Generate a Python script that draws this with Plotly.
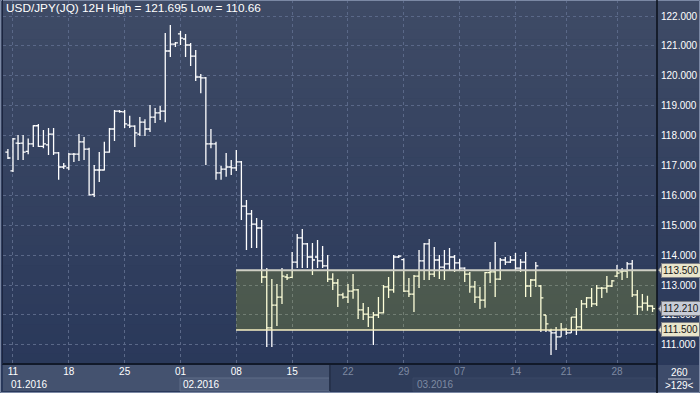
import plotly.graph_objects as go

# ---------------- data (USD/JPY 12H bars) ----------------
bar_index = list(range(128))
open_ = [117.45,116.82,117.75,117.75,117.47,117.72,118.33,117.64,117.69,118.05,
         117.42,116.95,116.92,117.38,117.38,117.79,117.55,116.03,116.85,116.85,
         117.45,118.22,118.82,118.79,118.35,118.32,118.05,118.45,118.22,118.62,
         118.76,118.82,120.83,121.06,121.40,121.23,121.03,120.66,119.96,119.93,
         117.72,117.72,116.75,116.88,116.95,116.92,117.12,115.64,115.38,115.04,
         114.91,113.27,111.57,112.33,112.60,113.27,113.26,113.77,114.58,114.38,
         113.94,113.94,113.81,113.64,113.20,113.07,112.67,112.60,112.80,112.84,
         112.17,112.03,111.93,112.00,112.07,112.94,112.84,113.94,113.85,112.80,
         112.70,113.30,113.81,114.38,113.37,113.84,113.60,113.71,113.94,113.74,
         113.57,113.37,112.94,112.60,112.50,113.42,113.44,113.20,113.84,113.77,
         113.84,113.57,113.77,112.97,113.17,112.97,112.00,111.47,111.40,111.27,
         111.53,111.40,111.93,111.60,112.37,112.57,112.37,112.90,112.90,112.97,
         113.30,113.44,113.47,113.71,112.67,112.27,112.40,112.30]
high = [117.55,117.92,118.02,118.02,117.90,118.35,118.39,118.19,118.25,118.25,
        117.45,117.08,117.42,117.42,118.05,117.95,117.59,117.02,117.45,117.79,
        118.25,118.86,118.86,118.86,118.66,118.35,118.62,118.55,119.02,118.92,
        118.99,121.43,121.695,121.13,121.50,121.40,121.10,120.86,120.06,119.96,
        118.22,117.79,116.98,117.42,117.18,117.52,117.15,115.85,115.51,115.24,
        115.18,113.57,113.20,113.04,113.57,113.37,114.11,114.71,114.88,114.41,
        114.41,114.51,114.31,114.01,113.40,113.20,112.74,113.04,113.37,112.87,
        112.40,112.27,112.10,112.60,113.00,113.27,114.01,114.01,113.90,113.24,
        113.34,114.17,114.41,114.54,114.27,114.01,114.17,114.24,114.01,113.87,
        113.60,113.44,113.14,112.94,113.44,113.77,114.44,113.91,113.94,113.97,
        114.07,113.87,114.11,113.20,113.77,113.00,112.00,111.54,111.60,111.73,
        111.57,111.93,112.23,112.50,112.60,112.90,113.00,112.94,113.30,113.17,
        113.67,113.57,113.77,113.84,112.84,112.70,112.64,112.33]
low = [117.22,116.78,117.18,117.18,117.38,117.62,117.62,117.58,117.35,117.35,
       116.52,116.88,116.85,117.12,117.15,117.18,116.00,115.95,116.45,116.83,
       117.43,117.82,118.76,118.25,118.25,117.62,117.99,117.99,118.12,118.42,
       118.52,118.45,120.63,120.96,121.03,120.63,120.33,119.83,119.42,117.02,
       117.58,116.52,116.52,116.62,116.68,116.82,115.18,114.17,114.24,114.24,
       113.07,110.93,110.93,111.63,112.37,113.17,113.24,113.57,113.57,113.57,
       113.34,113.57,113.57,113.10,112.84,112.27,112.54,112.40,112.54,111.87,
       111.83,111.60,111.00,111.90,112.05,112.57,112.74,113.91,112.77,112.60,
       112.10,112.90,113.17,113.17,113.27,113.20,113.17,113.50,113.44,113.50,
       113.10,112.74,112.40,112.20,112.24,113.07,112.60,113.17,113.67,113.74,
       113.50,113.44,112.60,112.60,112.94,111.43,111.43,110.66,110.83,111.27,
       111.33,111.40,111.33,111.50,112.23,112.27,112.30,112.57,112.74,112.94,
       113.27,113.17,113.24,112.60,112.00,112.14,112.14,112.10]
close = [117.25,117.89,117.74,117.45,117.72,118.33,117.64,117.72,118.05,117.42,
         116.95,116.98,117.38,117.38,117.79,117.55,116.02,116.85,116.85,117.45,
         118.22,118.82,118.80,118.39,118.32,118.09,118.45,118.22,118.62,118.76,
         118.82,120.83,121.06,121.10,121.26,121.03,120.66,119.96,119.93,117.72,
         117.72,116.75,116.88,116.95,116.92,117.12,115.64,115.38,115.04,114.91,
         113.27,111.57,112.33,112.60,113.30,113.24,113.77,114.58,114.38,113.94,
         113.84,113.81,113.64,113.20,113.07,112.67,112.60,112.80,112.84,112.17,
         112.03,111.93,112.00,112.07,112.94,112.84,113.94,113.97,112.80,112.70,
         113.30,113.81,114.38,113.37,113.84,113.60,113.71,113.94,113.74,113.57,
         113.37,112.94,112.60,112.50,113.42,113.44,113.20,113.84,113.77,113.84,
         113.57,113.77,112.97,113.17,113.64,112.57,111.70,111.40,111.27,111.53,
         111.40,111.93,111.60,112.37,112.57,112.37,112.90,112.90,112.97,113.14,
         113.40,113.47,113.71,112.67,112.27,112.40,112.30,112.21]

day_tick_index = [1, 12, 23, 34, 45, 56, 67, 78, 89, 100, 110, 120]
day_tick_text = ["11", "18", "25", "01", "08", "15", "22", "29", "07", "14", "21", "28"]
month_start_index = [0, 34, 80]
month_text = ["01.2016", "02.2016", "03.2016"]
price_ticks = [111, 112, 113, 114, 115, 116, 117, 118, 119, 120, 121, 122]
zone_low, zone_high = 111.5, 113.5
zone_start_index = 45
last_price = 112.21
title_text = "USD/JPY(JQ) 12H High = 121.695 Low = 110.66"
bars_total, bars_visible = "260", ">129<"

# ---------------- layout constants ----------------
W, H = 700, 393
ML, MR, MT, MB = 3, 43, 0, 29
PW = W - ML - MR
PH = H - MT - MB
Y_RANGE = [110.361, 122.535]
X_RANGE = [-0.965, 127.88]
FONT = "Liberation Sans, Arial, sans-serif"
BG_TOP = (63, 75, 102)
BG_BOT = (41, 56, 90)
split = 6  # first six day labels are bright, the rest dimmed

def px_x(px):  # paper x from pixel
    return (px - ML) / PW

def px_y(py):  # paper y from pixel
    return (H - MB - py) / PH

fig = go.Figure()
fig.add_trace(go.Ohlc(
    x=bar_index, open=open_, high=high, low=low, close=close,
    increasing=dict(line=dict(color="#ffffff", width=1.3)),
    decreasing=dict(line=dict(color="#ffffff", width=1.3)),
    tickwidth=0.5, hoverinfo="skip", showlegend=False,
))

shapes = []
n = 40
for k in range(n):
    t = k / (n - 1)
    c = tuple(int(BG_TOP[j] + (BG_BOT[j] - BG_TOP[j]) * t) for j in range(3))
    y0 = k * H / n
    y1 = (k + 1) * H / n + 0.5
    shapes.append(dict(type="rect", xref="paper", yref="paper",
                       x0=px_x(0), x1=px_x(W), y0=px_y(y1), y1=px_y(y0),
                       fillcolor="rgb(%d,%d,%d)" % c, line=dict(width=0), layer="below"))

# zone rectangle (translucent overlay tints bars & background)
shapes.append(dict(type="rect", xref="x", yref="y", x0=zone_start_index - 0.05, x1=X_RANGE[1],
                   y0=zone_low, y1=zone_high, fillcolor="rgba(250,255,0,0.15)",
                   line=dict(width=0), layer="above"))
shapes.append(dict(type="line", xref="x", yref="y", x0=zone_start_index - 0.05, x1=X_RANGE[1],
                   y0=zone_high, y1=zone_high, line=dict(color="#cfcfc4", width=2), layer="above"))
shapes.append(dict(type="line", xref="x", yref="y", x0=zone_start_index - 0.05, x1=X_RANGE[1],
                   y0=zone_low, y1=zone_low, line=dict(color="#f6efc2", width=1.5), layer="above"))

# bottom panel
shapes.append(dict(type="rect", xref="paper", yref="paper", x0=px_x(3), x1=px_x(330),
                   y0=px_y(391), y1=px_y(365), fillcolor="#44526f", line=dict(width=0), layer="below"))
shapes.append(dict(type="rect", xref="paper", yref="paper", x0=px_x(330), x1=px_x(657),
                   y0=px_y(391), y1=px_y(365), fillcolor="#2f3d5b", line=dict(width=0), layer="below"))
shapes.append(dict(type="rect", xref="paper", yref="paper", x0=px_x(180), x1=px_x(330),
                   y0=px_y(391), y1=px_y(378), fillcolor="#4c5a77",
                   line=dict(color="#5e6c88", width=1), layer="below"))
shapes.append(dict(type="rect", xref="paper", yref="paper", x0=px_x(413), x1=px_x(655),
                   y0=px_y(391), y1=px_y(378), fillcolor="#33415f",
                   line=dict(color="#3b4966", width=1), layer="below"))
shapes.append(dict(type="line", xref="paper", yref="paper", x0=px_x(330), x1=px_x(330),
                   y0=px_y(391), y1=px_y(365), line=dict(color="#26324c", width=2), layer="below"))
shapes.append(dict(type="rect", xref="paper", yref="paper", x0=px_x(658), x1=px_x(699),
                   y0=px_y(392), y1=px_y(365), fillcolor="#3d4b6a", line=dict(width=0), layer="below"))
shapes.append(dict(type="line", xref="paper", yref="paper", x0=px_x(668), x1=px_x(691),
                   y0=px_y(379), y1=px_y(379), line=dict(color="#c8ccd8", width=1), layer="below"))
shapes.append(dict(type="rect", xref="paper", yref="paper", x0=px_x(0.5), x1=px_x(699.5),
                   y0=px_y(392.5), y1=px_y(0.5), line=dict(color="#7b88a4", width=1), layer="above"))
shapes.append(dict(type="line", xref="paper", yref="paper", x0=1, x1=1, y0=px_y(393), y1=1,
                   line=dict(color="#0a0f1a", width=1.5), layer="above"))
shapes.append(dict(type="line", xref="paper", yref="paper", x0=px_x(2), x1=1, y0=0, y1=0,
                   line=dict(color="#0a0f1a", width=1.5), layer="above"))
shapes.append(dict(type="line", xref="paper", yref="paper", x0=px_x(2.5), x1=px_x(2.5), y0=0, y1=1,
                   line=dict(color="#1c2540", width=1), layer="above"))

annotations = []
# price scale labels (right panel)
for v in price_ticks:
    annotations.append(dict(xref="paper", yref="y", x=px_x(659), y=v, xanchor="left", yanchor="middle",
                            text="%.3f" % v, showarrow=False,
                            font=dict(family=FONT, size=10, color="#ffffff")))

def tag(value, text, bg):
    dy = 6.5 * (Y_RANGE[1] - Y_RANGE[0]) / PH
    shapes.append(dict(type="path", xref="paper", yref="y",
                       path="M %f %f L %f %f L %f %f Z" % (px_x(658.5), value, px_x(663), value + dy,
                                                          px_x(663), value - dy),
                       fillcolor=bg, line=dict(color="#7d7f86", width=1), layer="above"))
    annotations.append(dict(xref="paper", yref="y", x=px_x(661), y=value, xanchor="left", yanchor="middle",
                            text=text, showarrow=False, bgcolor=bg, bordercolor="#7d7f86",
                            borderwidth=1, borderpad=1,
                            font=dict(family=FONT, size=10, color="#161616")))

tag(zone_high, "%.3f" % zone_high, "#e9e5cb")
tag(last_price, "%.3f" % last_price, "#c8ccd6")
tag(zone_low, "%.3f" % zone_low, "#e9e5cb")

annotations.append(dict(xref="paper", yref="paper", x=px_x(4), y=px_y(8), xanchor="left", yanchor="middle",
                        text=title_text, showarrow=False,
                        font=dict(family=FONT, size=11.8, color="#ffffff")))
for i, (idx, txt) in enumerate(zip(month_start_index, month_text)):
    annotations.append(dict(xref="x", yref="paper", x=idx, y=px_y(384), xanchor="left", yanchor="middle",
                            xshift=1, text=txt, showarrow=False,
                            font=dict(family=FONT, size=10, color="#ffffff" if i < 2 else "#7e8aa2")))
annotations.append(dict(xref="paper", yref="paper", x=px_x(679), y=px_y(372), xanchor="center",
                        yanchor="middle", text=bars_total, showarrow=False,
                        font=dict(family=FONT, size=10, color="#ffffff")))
annotations.append(dict(xref="paper", yref="paper", x=px_x(679), y=px_y(385), xanchor="center",
                        yanchor="middle", text=bars_visible, showarrow=False,
                        font=dict(family=FONT, size=10, color="#ffffff")))

ticktext = [t if k < split else "<span style='color:#7e8aa2'>%s</span>" % t
            for k, t in enumerate(day_tick_text)]

fig.update_layout(
    width=W, height=H, margin=dict(l=ML, r=MR, t=MT, b=MB),
    paper_bgcolor="rgb(%d,%d,%d)" % BG_BOT, plot_bgcolor="rgba(0,0,0,0)",
    shapes=shapes, annotations=annotations, showlegend=False,
    xaxis=dict(range=X_RANGE, tickmode="array", tickvals=day_tick_index, ticktext=ticktext,
               showgrid=True, gridcolor="#5a6888", griddash="3px,3px", gridwidth=1,
               zeroline=False, showline=False, ticks="", rangeslider=dict(visible=False),
               tickfont=dict(family=FONT, size=10, color="#ffffff"), fixedrange=True),
    yaxis=dict(range=Y_RANGE, side="right", tickmode="array", tickvals=price_ticks,
               showticklabels=False,
               showgrid=True, gridcolor="#5a6888", griddash="3px,3px", gridwidth=1,
               zeroline=False, showline=False, ticks="", fixedrange=True),
)

fig.write_html("out.html", config={"displayModeBar": False},
               post_script="document.body.style.margin='0px';document.body.style.overflow='hidden';")
